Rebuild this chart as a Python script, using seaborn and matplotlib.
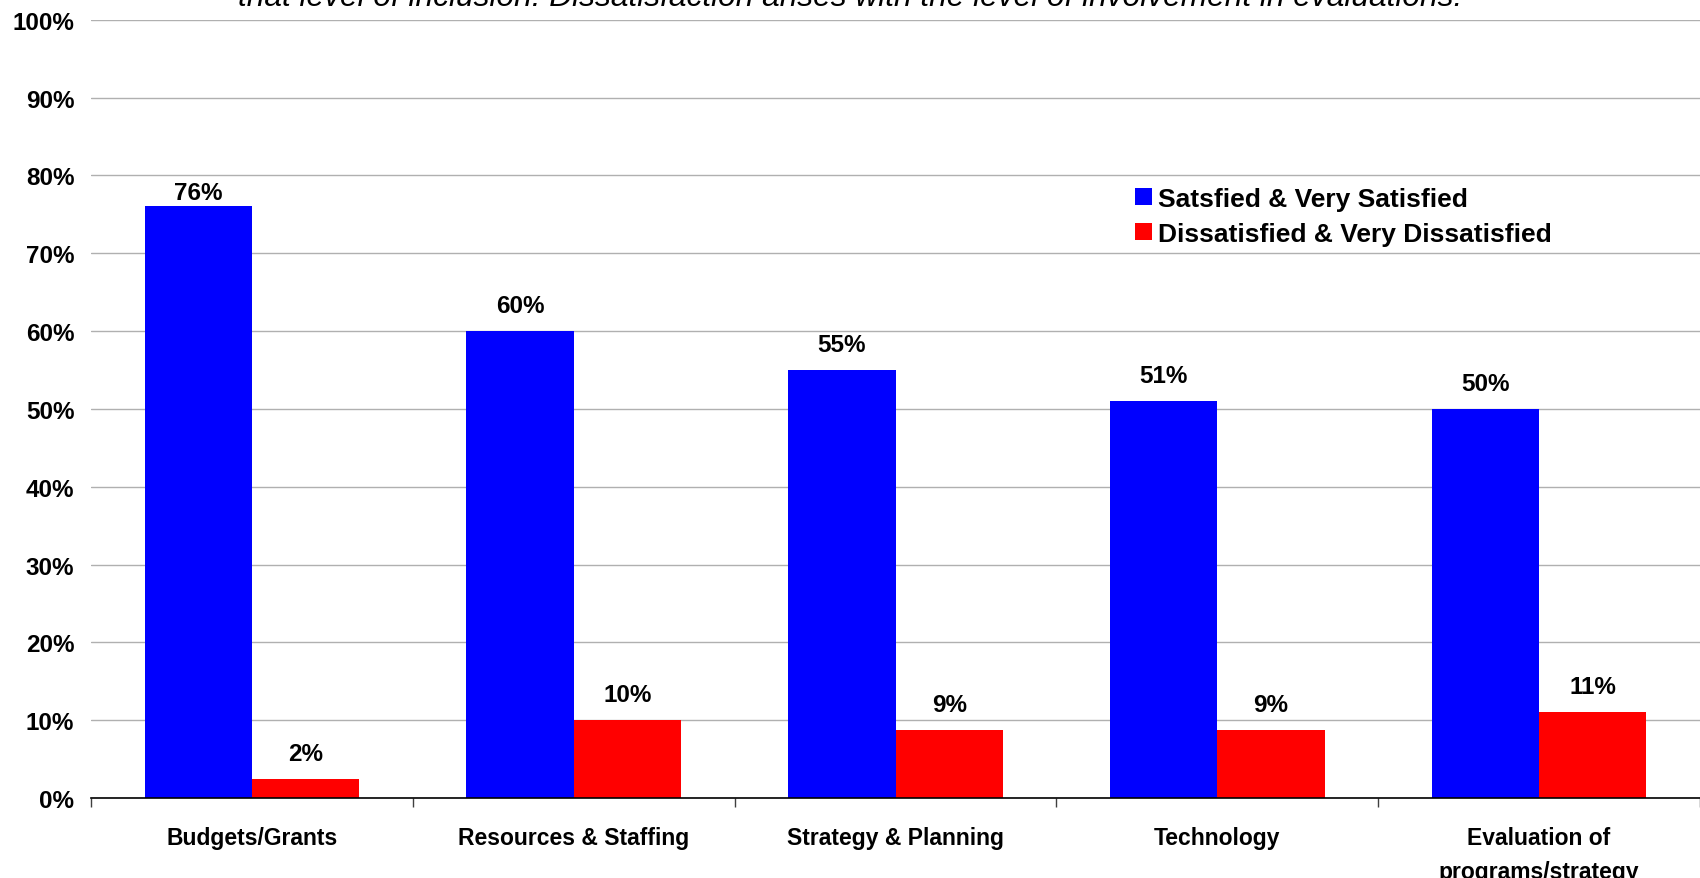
import numpy as np
import pandas as pd
import matplotlib
matplotlib.use("Agg")
import matplotlib.pyplot as plt
import seaborn as sns

# --- datos ---
categories = ["Budgets/Grants", "Resources & Staffing", "Strategy & Planning",
              "Technology", "Evaluation of\nprograms/strategy"]
series_names = ["Satsfied & Very Satisfied", "Dissatisfied & Very Dissatisfied"]
satisfied = [76, 60, 55, 51, 50]
dissatisfied = [2.4, 10, 8.7, 8.7, 11]
y_ticks = [0, 10, 20, 30, 40, 50, 60, 70, 80, 90, 100]
title_text = ("that level of inclusion. Dissatisfaction arises with the level "
              "of involvement in evaluations.")

df = pd.DataFrame({
    "category": categories * 2,
    "series": [series_names[0]] * len(categories) + [series_names[1]] * len(categories),
    "value": satisfied + dissatisfied,
})

sns.set_theme(style="white")
plt.rcParams["font.family"] = ["Liberation Sans", "DejaVu Sans"]
plt.rcParams["text.color"] = "black"
plt.rcParams["xtick.color"] = "black"
plt.rcParams["ytick.color"] = "black"

fig = plt.figure(figsize=(17, 8.79), dpi=100)
ax = fig.add_axes([91 / 1700, 1 - 799 / 879, 1 - 91 / 1700, (799 - 20.7) / 879])

sns.barplot(data=df, x="category", y="value", hue="series",
            palette=["#0000FF", "#FF0000"], saturation=1, width=0.667,
            linewidth=0, ax=ax)

# etiquetas de valor encima de cada barra
for i, cont in enumerate(ax.containers):
    vals = satisfied if i == 0 else dissatisfied
    labels = [f"{round(v)}%" for v in vals]
    texts = ax.bar_label(cont, labels=labels, padding=10, fontsize=17.5,
                         fontweight="bold", color="black")
    if i == 0:
        # la etiqueta de 76% esta mas pegada a la barra en el original
        texts[0].xyann = (0, 2)

ax.set_ylim(0, 100)
ax.set_xlim(-0.5, len(categories) - 0.5)
ax.set_yticks(y_ticks)
ax.set_yticklabels([f"{t}%" for t in y_ticks], fontsize=17.5, fontweight="bold")
ax.yaxis.grid(True, color="#b0b0b0", linewidth=1.0)
ax.set_axisbelow(True)

ax.set_xticks(range(len(categories)))
ax.set_xticklabels(categories, fontsize=16.5, fontweight="bold", linespacing=1.6)
ax.set_xticks(np.arange(-0.5, len(categories), 1), minor=True)
ax.tick_params(axis="x", which="major", length=0, pad=20)
ax.tick_params(axis="x", which="minor", length=6.5, width=1, color="#404040",
               direction="out", bottom=True)
ax.tick_params(axis="y", length=0, pad=12)

for s in ["top", "right", "left"]:
    ax.spines[s].set_visible(False)
ax.spines["bottom"].set_color("black")
ax.spines["bottom"].set_linewidth(1.2)
ax.set_xlabel("")
ax.set_ylabel("")

handles, lbls = ax.get_legend_handles_labels()
ax.legend(handles, lbls, loc="upper left", bbox_to_anchor=(1122 / 1700, 1 - 175 / 879),
          bbox_transform=fig.transFigure, frameon=False, borderpad=0,
          prop={"size": 19, "weight": "bold"}, handlelength=0.62,
          handleheight=0.62, handletextpad=0.25, labelspacing=0.4)

fig.text(0.5, 1 - 6 / 879, title_text, ha="center", va="baseline",
         style="italic", fontsize=22.8)

fig.savefig("out.png", dpi=100)
plt.close(fig)
